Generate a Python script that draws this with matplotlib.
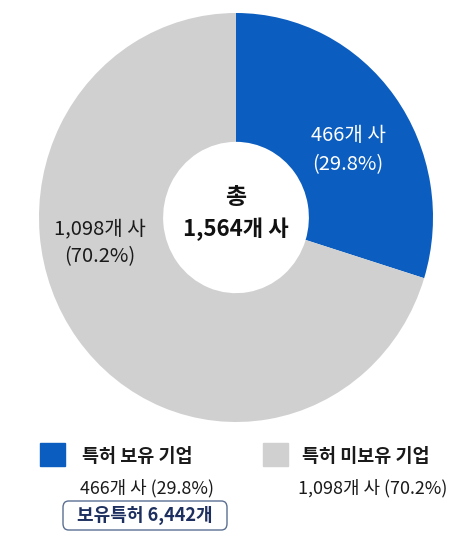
import matplotlib
matplotlib.use("Agg")
import matplotlib.pyplot as plt
from matplotlib.patches import FancyBboxPatch, Rectangle

plt.rcParams['font.family'] = ['Noto Sans CJK KR', 'DejaVu Sans']

labels = ['특허 보유 기업', '특허 미보유 기업']
counts = [466, 1098]
shares = [29.8, 70.2]
colors = ['#0B5DBF', '#D0D0D0']
total = 1564
patents = 6442

W, H = 467, 538
fig = plt.figure(figsize=(W / 100, H / 100), dpi=100)

def fx(px):
    return px / W

def fy(py):
    return 1 - py / H

# donut
ax = fig.add_axes([fx(39), fy(422), fx(433) - fx(39), fy(13) - fy(422)])
ax.pie(counts, colors=colors, startangle=90, counterclock=False,
       radius=1, wedgeprops=dict(width=0.63, linewidth=0))
ax.set_aspect('auto')
ax.set_xlim(-1, 1)
ax.set_ylim(-1, 1)
ax.axis('off')

fig.text(fx(236), fy(198), '총', ha='center', va='center',
         fontsize=16.5, fontweight='bold', color='#111111')
fig.text(fx(236), fy(229), f'{total:,}개 사', ha='center', va='center',
         fontsize=16, fontweight='bold', color='#111111')

fig.text(fx(348), fy(136), f'{counts[0]:,}개 사', ha='center', va='center',
         fontsize=14.5, color='white')
fig.text(fx(348), fy(165), f'({shares[0]}%)', ha='center', va='center',
         fontsize=14.5, color='white')

fig.text(fx(100), fy(229), f'{counts[1]:,}개 사', ha='center', va='center',
         fontsize=14.5, color='#1a1a1a')
fig.text(fx(100), fy(257), f'({shares[1]}%)', ha='center', va='center',
         fontsize=14.5, color='#1a1a1a')

# legend
for i, (x0, tx) in enumerate([(40, 82), (263, 302)]):
    fig.patches.append(Rectangle((fx(x0), fy(466)), fx(25), fy(443) - fy(466),
                                 transform=fig.transFigure, color=colors[i]))
    fig.text(fx(tx), fy(456), labels[i], ha='left', va='center',
             fontsize=13.3, fontweight='bold', color='#1a1a1a')

fig.text(fx(80), fy(488), f'{counts[0]:,}개 사 ({shares[0]}%)', ha='left', va='center',
         fontsize=12.9, color='#1a1a1a')
fig.text(fx(298), fy(488), f'{counts[1]:,}개 사 ({shares[1]}%)', ha='left', va='center',
         fontsize=12.9, color='#1a1a1a')

box = FancyBboxPatch((fx(63), fy(530)), fx(164), fy(501) - fy(530),
                     boxstyle='round,pad=0,rounding_size=0.012',
                     transform=fig.transFigure, facecolor='white',
                     edgecolor='#5C6F92', linewidth=1.0)
fig.patches.append(box)
fig.text(fx(145), fy(515.5), f'보유특허 {patents:,}개', ha='center', va='center',
         fontsize=13, fontweight='bold', color='#1D2F5E')

fig.savefig('out.png', dpi=100, facecolor='white')
